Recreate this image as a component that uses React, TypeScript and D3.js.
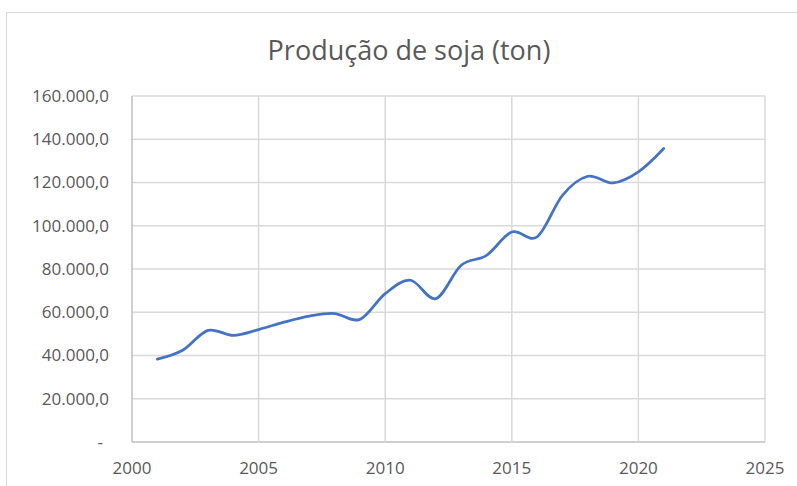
import React from "react";
import * as d3 from "d3";

const years = [2001, 2002, 2003, 2004, 2005, 2006, 2007, 2008, 2009, 2010, 2011, 2012, 2013, 2014, 2015, 2016, 2017, 2018, 2019, 2020, 2021];
const production = [38300, 42400, 51600, 49300, 52000, 55400, 58200, 59400, 56700, 68600, 74800, 66300, 81700, 86300, 97100, 94900, 114100, 122900, 119800, 124900, 135700];
const xTicks = [2000, 2005, 2010, 2015, 2020, 2025];
const yTicks = [0, 20000, 40000, 60000, 80000, 100000, 120000, 140000, 160000];
const title = "Produção de soja (ton)";

const W = 797;
const H = 486;
const m = { left: 132, right: 765, top: 96, bottom: 442 };
const font = "'Open Sans', 'Noto Sans', sans-serif";
const textColor = "#595959";

function fmt(v: number): string {
  if (v === 0) return "-";
  const s = Math.round(v).toString().replace(/\B(?=(\d{3})+(?!\d))/g, ".");
  return s + ",0";
}

export default function App() {
  const x = d3.scaleLinear().domain([2000, 2025]).range([m.left, m.right]);
  const y = d3.scaleLinear().domain([0, 160000]).range([m.bottom, m.top]);
  const line = d3
    .line<number>()
    .x((_, i) => x(years[i]))
    .y((d) => y(d))
    .curve(d3.curveCatmullRom.alpha(0));
  const path = line(production) || "";

  return (
    <svg
      width={W}
      height={H}
      style={{ position: "absolute", left: 0, top: 0, background: "#fff" }}
    >
      <rect x={6.5} y={12.5} width={W} height={H} fill="#fff" stroke="#d9d9d9" strokeWidth={1} />
      <text
        x={409}
        y={60}
        textAnchor="middle"
        fontFamily={font}
        fontSize={27}
        fill={textColor}
      >
        {title}
      </text>
      {yTicks.map((t) => (
        <line
          key={"gy" + t}
          x1={m.left}
          x2={m.right}
          y1={y(t)}
          y2={y(t)}
          stroke={t === 0 ? "#bfbfbf" : "#d9d9d9"}
          strokeWidth={1.5}
        />
      ))}
      {xTicks.map((t) => (
        <line
          key={"gx" + t}
          x1={x(t)}
          x2={x(t)}
          y1={m.top}
          y2={m.bottom}
          stroke={t === 2000 ? "#bfbfbf" : "#d9d9d9"}
          strokeWidth={1.5}
        />
      ))}
      {yTicks.map((t) => (
        <text
          key={"ty" + t}
          x={t === 0 ? 103 : 109}
          y={y(t)}
          dy="0.35em"
          textAnchor="end"
          fontFamily={font}
          fontSize={17}
          fill={textColor}
        >
          {fmt(t)}
        </text>
      ))}
      {xTicks.map((t) => (
        <text
          key={"tx" + t}
          x={x(t)}
          y={468}
          dy="0.35em"
          textAnchor="middle"
          fontFamily={font}
          fontSize={17}
          fill={textColor}
        >
          {t}
        </text>
      ))}
      <path d={path} fill="none" stroke="#4472C4" strokeWidth={2.75} strokeLinecap="round" />
    </svg>
  );
}
